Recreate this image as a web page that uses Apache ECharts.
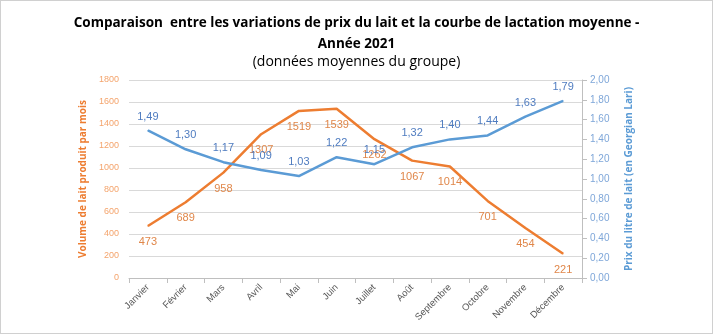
<!DOCTYPE html>
<html><head><meta charset="utf-8">
<script src="https://cdn.jsdelivr.net/npm/echarts@6/dist/echarts.min.js"></script>
<style>html,body{margin:0;padding:0;background:#fff}#c{width:713px;height:334px;box-sizing:border-box;border:1px solid #d0d0d0}</style>
</head><body><div id="c"></div>
<script>
var categories = ['Janvier','Février','Mars','Avril','Mai','Juin','Juillet','Août','Septembre','Octobre','Novembre','Décembre'];
var volume = [473, 689, 958, 1307, 1519, 1539, 1262, 1067, 1014, 701, 454, 221];
var prix = [1.49, 1.30, 1.17, 1.09, 1.03, 1.22, 1.15, 1.32, 1.40, 1.44, 1.63, 1.79];

var chart = echarts.init(document.getElementById('c'));
var fam = 'Liberation Sans, Open Sans, sans-serif';
chart.setOption({
  animation: false,
  title: [
    {text: 'Comparaison  entre les variations de prix du lait et la courbe de lactation moyenne -\nAnnée 2021', left: 'center', top: 7,
     textStyle: {fontFamily: 'Open Sans', fontSize: 13.5, fontWeight: 'bold', color: '#000', lineHeight: 21}},
    {text: '(données moyennes du groupe)', left: 'center', top: 49,
     textStyle: {fontFamily: 'Open Sans', fontSize: 14, fontWeight: 'normal', color: '#000'}}
  ],
  grid: {left: 128, right: 130, top: 79, bottom: 55},
  xAxis: {
    type: 'category', data: categories, boundaryGap: true,
    axisLine: {lineStyle: {color: '#BFBFBF'}},
    axisTick: {show: true, alignWithLabel: false, lineStyle: {color: '#BFBFBF'}},
    axisLabel: {rotate: 45, color: '#595959', fontSize: 9.5, fontFamily: fam, margin: 8}
  },
  yAxis: [
    {type: 'value', min: 0, max: 1800, interval: 200, position: 'left',
     name: 'Volume de lait produit par mois', nameLocation: 'middle', nameGap: 33,
     nameTextStyle: {color: '#ED7D31', fontWeight: 'bold', fontSize: 10, fontFamily: 'Open Sans'},
     axisLine: {show: false}, axisTick: {show: false},
     axisLabel: {color: '#F4A46C', fontSize: 9, fontFamily: fam, margin: 10,
       formatter: function(v){return String(v);}},
     splitLine: {lineStyle: {color: '#D9D9D9'}}},
    {type: 'value', min: 0, max: 2, interval: 0.2, position: 'right',
     name: 'Prix du litre de lait (en Georgian Lari)', nameLocation: 'middle', nameGap: 42,
     nameRotate: 90,
     nameTextStyle: {color: '#5B9BD5', fontWeight: 'bold', fontSize: 10, fontFamily: 'Open Sans'},
     axisLine: {show: true, lineStyle: {color: '#BFBFBF'}},
     axisTick: {show: true, lineStyle: {color: '#BFBFBF'}},
     axisLabel: {color: '#7FA7D9', fontSize: 10, fontFamily: fam, margin: 8,
       formatter: function(v){return v.toFixed(2).replace('.', ',');}},
     splitLine: {show: false}}
  ],
  series: [
    {type: 'line', name: 'Volume', yAxisIndex: 0, data: volume, symbol: 'circle', symbolSize: 1, showSymbol: true,
     lineStyle: {color: '#ED7D31', width: 2.5}, itemStyle: {color: '#ED7D31'},
     labelLayout: {hideOverlap: false},
     label: {show: true, position: 'bottom', distance: 10, color: '#E0874A', fontSize: 11, fontFamily: fam}},
    {type: 'line', name: 'Prix', yAxisIndex: 1, data: prix, symbol: 'circle', symbolSize: 1, showSymbol: true,
     lineStyle: {color: '#5B9BD5', width: 2.5}, itemStyle: {color: '#5B9BD5'},
     labelLayout: {hideOverlap: false},
     label: {show: true, position: 'top', distance: 8, color: '#4F7CC0', fontSize: 11, fontFamily: fam,
       formatter: function(p){return p.value.toFixed(2).replace('.', ',');}}}
  ]
});
</script></body></html>
